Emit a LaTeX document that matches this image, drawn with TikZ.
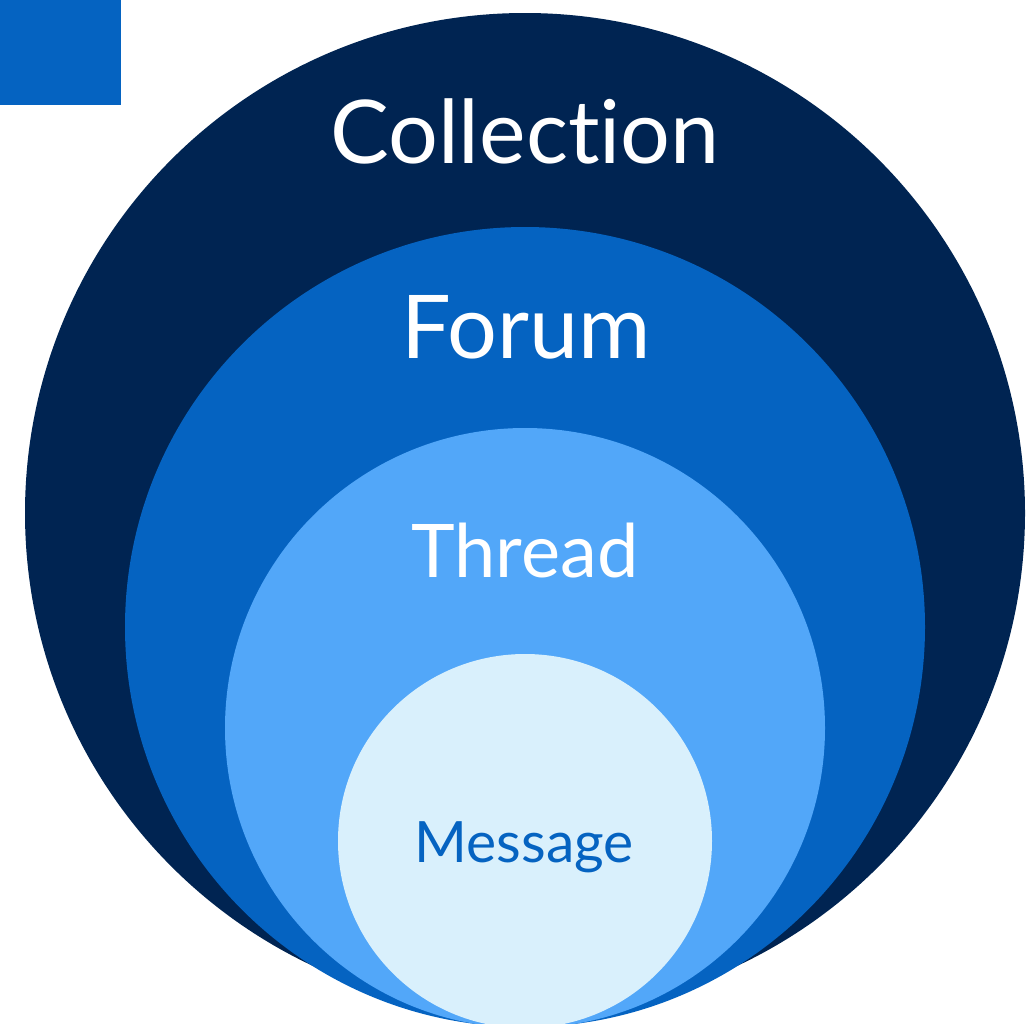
\documentclass[tikz,border=0pt]{standalone}
\usepackage{fontspec}
\setmainfont{Lato}[Ligatures=NoCommon]
\definecolor{navy}{RGB}{0,36,82}
\definecolor{forumblue}{RGB}{5,99,193}
\definecolor{threadblue}{RGB}{82,167,249}
\definecolor{msgblue}{RGB}{217,240,252}
\tikzset{
  ring/.style={circle, inner sep=0pt, draw=none, minimum size=#1},
  lbl/.style={anchor=base, text=white, inner sep=0pt}
}
\begin{document}
\begin{tikzpicture}[x=1pt, y=-1pt]
\useasboundingbox (0,0) rectangle (1036,1023);
\clip (0,0) rectangle (1036,1023);
\fill[forumblue] (0,0) rectangle (121,105);
\node[ring=1000pt, fill=navy]       (coll)   at (525,513) {};
\node[ring=800pt, fill=forumblue]   (forum)  at (525,627) {};
\node[ring=600pt, fill=threadblue]  (thread) at (525,728) {};
\node[ring=374pt, fill=msgblue]     (msg)    at (525,841) {};
\node[lbl, font=\fontsize{88}{88}\selectfont] (tcoll)   at (525,163) {Collection};
\node[lbl, font=\fontsize{88}{88}\selectfont] (tforum)  at (526,358) {Forum};
\node[lbl, font=\fontsize{74}{74}\selectfont] (tthread) at (525,577) {Thread};
\node[lbl, font=\fontsize{57}{57}\selectfont, text=forumblue] (tmsg) at (524,862) {Message};
\end{tikzpicture}
\end{document}
